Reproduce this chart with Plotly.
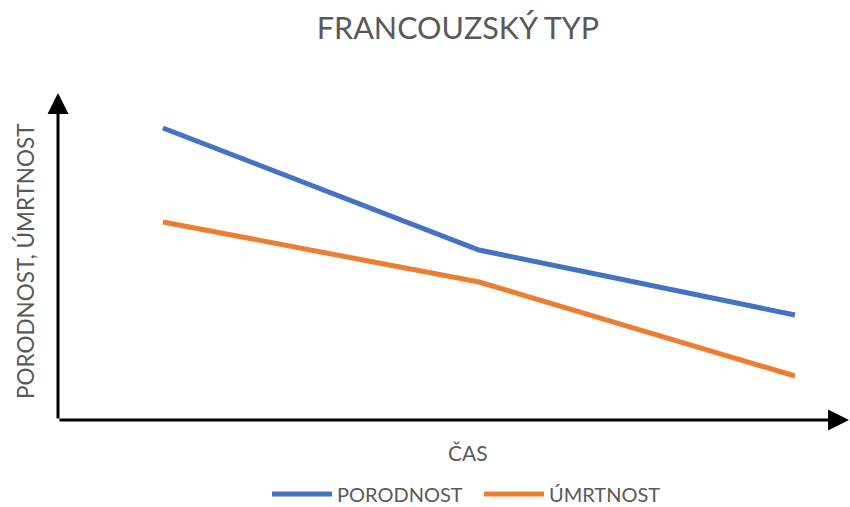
import plotly.graph_objects as go

categories = ["1", "2", "3"]
porodnost = [29.2, 17.0, 10.5]
umrtnost = [19.8, 13.8, 4.4]
series_names = ["PORODNOST", "ÚMRTNOST"]

FONT = "Lato"
GRAY = "#595959"

fig = go.Figure()
fig.add_trace(go.Scatter(x=categories, y=porodnost, mode="lines", name=series_names[0],
                         line=dict(color="#4472C4", width=5)))
fig.add_trace(go.Scatter(x=categories, y=umrtnost, mode="lines", name=series_names[1],
                         line=dict(color="#ED7D31", width=5)))

W, H = 850, 507
L, R, T, B = 58, 0, 93, 507 - 420
pw, ph = W - L - R, H - T - B

def px(xs):
    return (xs - L) / pw

def py(ys):
    return (H - B - ys) / ph

fig.update_layout(
    width=W, height=H,
    margin=dict(l=L, r=R, t=T, b=B, autoexpand=False),
    paper_bgcolor="white", plot_bgcolor="white",
    title=dict(text="FRANCOUZSKÝ TYP", x=458 / W, xanchor="center", y=1 - 28 / H,
               yanchor="middle", font=dict(family=FONT, size=30.5, color=GRAY)),
    xaxis=dict(type="category", range=[-0.332, 2.174], visible=False),
    yaxis=dict(range=[0, 32.7], visible=False),
    showlegend=True,
    legend=dict(orientation="h", x=px(267), xanchor="left", y=py(494), yanchor="middle",
                font=dict(family=FONT, size=20, color=GRAY), itemwidth=60,
                entrywidth=137, entrywidthmode="pixels"),
    annotations=[
        dict(xref="paper", yref="paper", x=0, y=1, ax=0, ay=ph,
             showarrow=True, arrowhead=2, arrowsize=1.4, arrowwidth=3, arrowcolor="black", text=""),
        dict(xref="paper", yref="paper", x=1, y=0, ax=-pw, ay=0,
             showarrow=True, arrowhead=2, arrowsize=1.4, arrowwidth=3, arrowcolor="black", text=""),
        dict(xref="paper", yref="paper", x=px(468), y=py(452), text="ČAS", showarrow=False,
             font=dict(family=FONT, size=21, color=GRAY), xanchor="center", yanchor="middle"),
        dict(xref="paper", yref="paper", x=px(25), y=py(261), text="PORODNOST, ÚMRTNOST",
             showarrow=False, textangle=-90, font=dict(family=FONT, size=22.5, color=GRAY),
             xanchor="center", yanchor="middle"),
    ],
)

fig.write_html("out.html", config={"displayModeBar": False},
               post_script="document.body.style.margin='0';")
